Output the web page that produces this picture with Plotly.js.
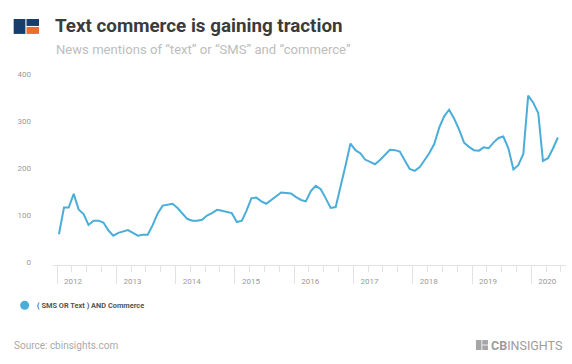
<!DOCTYPE html>
<html><head><meta charset="utf-8">
<script src="https://cdn.plot.ly/plotly-3.0.1.min.js"></script>
<style>html,body{margin:0;padding:0;background:#fff;} #chart{width:572px;height:364px;}</style>
</head><body><div id="chart"></div>
<script>
// ---- data (monthly news mentions) ----
const years = ['2012','2013','2014','2015','2016','2017','2018','2019','2020'];
const mentions2012 = [60,117,117,146,113,103,80,89,89,85,68,57];
const mentions2013 = [63,67,69,63,57,59,59,80,105,121,123,125];
const mentions2014 = [116,104,93,89,89,91,100,105,112,110,108,105];
const mentions2015 = [86,89,110,137,138,130,125,133,141,149,148,147];
const mentions2016 = [139,133,130,152,163,156,137,116,118,159,207,253];
const mentions2017 = [239,232,219,214,209,218,228,240,239,236,217,199];
const mentions2018 = [195,203,217,233,252,287,311,325,306,283,255,246];
const mentions2019 = [239,238,245,243,255,265,268,243,198,207,231,355];
const mentions2020 = [340,318,216,222,242,266];
const seriesName = '( SMS OR Text ) AND Commerce';
const yTicks = [0,100,200,300,400];
const yTickText = ['0','100','200','300','400'];

const byYear = [mentions2012,mentions2013,mentions2014,mentions2015,mentions2016,mentions2017,mentions2018,mentions2019,mentions2020];
const dates = [], values = [];
byYear.forEach((arr, i) => arr.forEach((v, m) => {
  dates.push(years[i] + '-' + String(m + 1).padStart(2, '0') + '-13');
  values.push(v);
}));
const yearStarts = years.map(y => y + '-01-01');

// ---- geometry helpers (pixel -> paper) ----
const L = 53.3, R = 566, T = 66.5, B = 265.2;
const px = x => (x - L) / (R - L);
const py = y => (B - y) / (B - T);
const rect = (x0, y0, x1, y1, color) => ({type:'rect', xref:'paper', yref:'paper',
  x0:px(x0), x1:px(x1), y0:py(y1), y1:py(y0), fillcolor:color, line:{width:0}, layer:'above'});

const blue = '#4aaed8';
const navy = '#163d6d';
const orange = '#f26a2e';
const gray = '#a6a6a6';

const trace = {
  x: dates, y: values, type:'scatter', mode:'lines', name: seriesName,
  line:{color: blue, width:2}, showlegend:false, hoverinfo:'x+y'
};

const layout = {
  width:572, height:364, autosize:false,
  margin:{l:L, r:572-R, t:T, b:364-B, pad:0},
  paper_bgcolor:'#fff', plot_bgcolor:'#fff',
  showlegend:false,
  font:{family:'Roboto, sans-serif'},
  title:{text:'Text commerce is gaining traction', xref:'container', yref:'container',
    x:55/572, xanchor:'left', y:1-25/364, yanchor:'middle',
    font:{family:'Roboto', size:18.8, color:'#3b3b3b', weight:'bold'}},
  xaxis:{
    type:'date', range:['2011-12-07 08:00','2020-08-02'], fixedrange:true,
    tickmode:'array', tickvals: yearStarts, ticktext: years,
    ticks:'outside', ticklen:18, tickwidth:1, tickcolor:'#e2e2e2',
    showline:true, linecolor:'#e2e2e2', linewidth:1,
    showgrid:false, zeroline:false,
    tickfont:{family:'Roboto', size:8, color:'#9a9a9a'},
    ticklabelshift:16, ticklabelstandoff:-10,
    minor:{tickmode:'linear', tick0:'2012-01-01', dtick:'M3', ticks:'outside', ticklen:6, tickwidth:1, tickcolor:'#e2e2e2', showgrid:false}
  },
  yaxis:{
    range:[-5.3, 415.9], fixedrange:true,
    tickmode:'array', tickvals:yTicks, ticktext:yTickText,
    showgrid:false, zeroline:false, showline:false, ticks:'',
    tickfont:{family:'Roboto', size:8, color:'#9a9a9a'},
    ticklabelstandoff:21
  },
  shapes:[
    // CB Insights icon (top left)
    rect(14, 18.3, 25.7, 33.3, navy),
    rect(26.8, 18.3, 39.3, 25.3, navy),
    rect(26.8, 26.3, 39.3, 33.3, orange),
    // legend marker
    {type:'circle', xref:'paper', yref:'paper', x0:px(20.5), x1:px(29.5), y0:py(310.2), y1:py(301.2),
     fillcolor:blue, line:{width:0}},
    // CB Insights icon (bottom right, gray)
    rect(476, 340.5, 481.5, 350.5, gray),
    rect(482.3, 340.5, 488, 345.1, gray),
    rect(482.3, 345.9, 488, 350.5, gray)
  ],
  annotations:[
    {text:'News mentions of “text” or “SMS” and “commerce”', xref:'paper', yref:'paper',
     x:px(54), y:py(48.5), xanchor:'left', yanchor:'middle', showarrow:false,
     font:{family:'Roboto', size:13.1, color:'#bdbdbd'}},
    {text:seriesName, xref:'paper', yref:'paper', x:px(35), y:py(305.7), xanchor:'left', yanchor:'middle',
     showarrow:false, font:{family:'Roboto', size:7.4, color:'#555', weight:'bold'}},
    {text:'Source: cbinsights.com', xref:'paper', yref:'paper', x:px(12), y:py(345.5), xanchor:'left', yanchor:'middle',
     showarrow:false, font:{family:'Roboto', size:10, color:'#aaaaaa'}},
    {text:'<b>CB</b>INSIGHTS', xref:'paper', yref:'paper', x:px(489), y:py(345.5), xanchor:'left', yanchor:'middle',
     showarrow:false, font:{family:'Roboto', size:12.5, color:'#9c9c9c'}}
  ]
};

Plotly.newPlot('chart', [trace], layout, {displayModeBar:false, staticPlot:true});
</script>
</body></html>
